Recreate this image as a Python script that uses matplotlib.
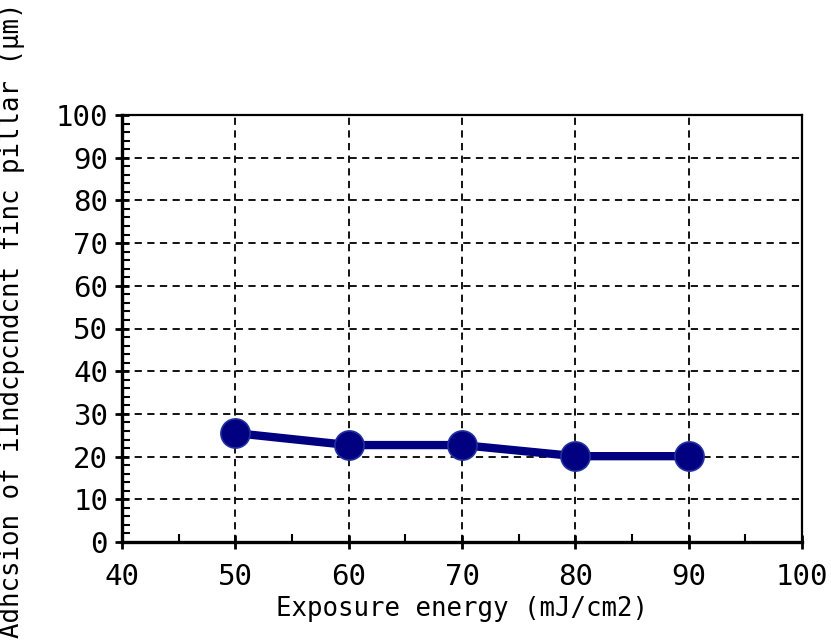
import numpy as np
import matplotlib
matplotlib.use("Agg")
import matplotlib.pyplot as plt
from matplotlib.ticker import MultipleLocator

# data
exposure = [50, 60, 70, 80, 90]
adhesion = [25.5, 22.7, 22.7, 20.1, 20.1]

x_ticks = [40, 50, 60, 70, 80, 90, 100]
y_ticks = list(range(0, 101, 10))

xlabel = "Exposure energy (mJ/cm2)"
ylabel = "Adhcsion of iIndcpcndcnt finc pillar (\u03bcm)"

plt.rcParams['font.family'] = ['DejaVu Sans Mono', 'DejaVu Sans']

fig = plt.figure(figsize=(8.31, 6.41), dpi=100)
ax = fig.add_axes([122 / 831, 1 - 542 / 641, 680 / 831, 427 / 641])

# === line + markers ===
ax.plot(exposure, adhesion, color='#000080', linewidth=6, marker='o',
        markersize=21, markeredgecolor='#2030a0', markeredgewidth=1.2,
        zorder=5, clip_on=False)

# === axes ===
ax.set_xlim(40, 100)
ax.set_ylim(0, 100)
ax.set_xticks(x_ticks)
ax.set_yticks(y_ticks)
ax.xaxis.set_minor_locator(MultipleLocator(5))
ax.yaxis.set_minor_locator(MultipleLocator(2))
ax.tick_params(axis='both', which='major', direction='inout', length=10,
               width=2, labelsize=21)
ax.tick_params(axis='x', which='major', pad=10)
ax.tick_params(axis='y', which='major', pad=5)
ax.tick_params(axis='both', which='minor', direction='in', length=6, width=1.5)

ax.grid(True, which='major', color='black', linestyle=(0, (4, 3)), linewidth=1.3)

ax.spines['left'].set_linewidth(2.4)
ax.spines['bottom'].set_linewidth(2.4)
ax.spines['right'].set_linewidth(1.6)
ax.spines['top'].set_linewidth(1.6)

ax.set_xlabel(xlabel, fontsize=18.5, labelpad=4)
fig.text(12 / 831, 0.5, ylabel, rotation=90, fontsize=18.5,
         ha='center', va='center')

fig.savefig('out.png', dpi=100)
